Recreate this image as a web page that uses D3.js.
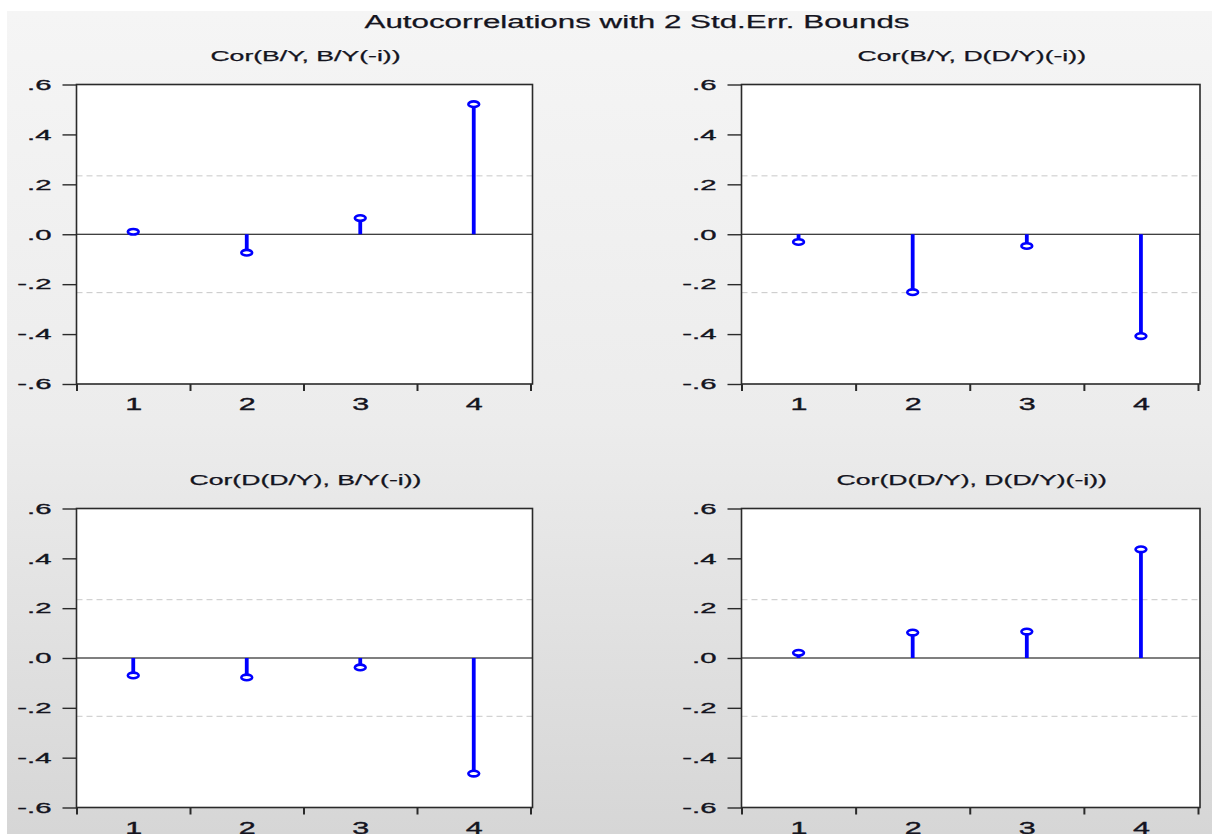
<!DOCTYPE html>
<html>
<head>
<meta charset="utf-8">
<script src="https://cdn.jsdelivr.net/npm/d3@7"></script>
<style>
  html, body { margin: 0; padding: 0; background: #ffffff; }
  svg { display: block; font-family: "Liberation Sans", Arial, sans-serif; }
</style>
</head>
<body>
<svg id="chart" width="1212" height="834"></svg>
<script>
// Lags on the horizontal axis
const lags = [1, 2, 3, 4];

// Cross-correlations for each pair of series
const corrBY_BY   = [0.010, -0.074, 0.065, 0.521];
const corrBY_DDY  = [-0.031, -0.232, -0.047, -0.408];
const corrDDY_BY  = [-0.070, -0.078, -0.038, -0.464];
const corrDDY_DDY = [0.021, 0.102, 0.106, 0.436];

const panelTitles = [
  "Cor(B/Y, B/Y(-i))",
  "Cor(B/Y, D(D/Y)(-i))",
  "Cor(D(D/Y), B/Y(-i))",
  "Cor(D(D/Y), D(D/Y)(-i))"
];
const panelValues = [corrBY_BY, corrBY_DDY, corrDDY_BY, corrDDY_DDY];

// Two standard-error band
const stdErrBound = 0.234;

const yTicks = [0.6, 0.4, 0.2, 0.0, -0.2, -0.4, -0.6];
const yTickLabels = [".6", ".4", ".2", ".0", "-.2", "-.4", "-.6"];
const xTickLabels = ["1", "2", "3", "4"];

const mainTitle = "Autocorrelations with 2 Std.Err. Bounds";

// ---- layout ----
const W = 1212, H = 834;
const cols = [{ x0: 76.5, x1: 530.5 }, { x0: 741.5, x1: 1198 }];
const rows = [{ y0: 84.5, y1: 384 }, { y0: 508.5, y1: 807.5 }];
const textColor = "#14141e";
const stemColor = "#0000ff";

const svg = d3.select("#chart");

// background panel
const defs = svg.append("defs");
const grad = defs.append("linearGradient")
  .attr("id", "bg").attr("x1", 0).attr("y1", 0).attr("x2", 0).attr("y2", 1);
grad.append("stop").attr("offset", "0").attr("stop-color", "#f5f5f5");
grad.append("stop").attr("offset", "0.5").attr("stop-color", "#ececec");
grad.append("stop").attr("offset", "1").attr("stop-color", "#d6d6d6");
svg.append("rect").attr("x", 7).attr("y", 11)
  .attr("width", W - 7).attr("height", H - 11)
  .attr("fill", "url(#bg)");

// text drawn wide, as in the original graph export
function widen(sel, factor) {
  sel.each(function () {
    const w = this.getComputedTextLength();
    this.setAttribute("textLength", w * factor);
    this.setAttribute("lengthAdjust", "spacingAndGlyphs");
  });
}

svg.append("text")
  .attr("x", 637).attr("y", 27.5)
  .attr("text-anchor", "middle")
  .attr("font-size", 17.5)
  .attr("fill", textColor)
  .attr("stroke", textColor).attr("stroke-width", 0.25)
  .text(mainTitle)
  .call(widen, 1.79);

panelValues.forEach((vals, i) => {
  const c = cols[i % 2], r = rows[Math.floor(i / 2)];
  const x = d3.scaleLinear().domain([0.5, 4.5]).range([c.x0, c.x1]);
  const y = d3.scaleLinear().domain([-0.6, 0.6]).range([r.y1, r.y0]);
  const g = svg.append("g");

  // plot area
  g.append("rect")
    .attr("x", c.x0).attr("y", r.y0)
    .attr("width", c.x1 - c.x0 + 2).attr("height", r.y1 - r.y0)
    .attr("fill", "#ffffff");

  // panel title
  g.append("text")
    .attr("x", (c.x0 + c.x1) / 2 + 2).attr("y", r.y0 - 24)
    .attr("text-anchor", "middle")
    .attr("font-size", 14)
    .attr("fill", textColor)
    .attr("stroke", textColor).attr("stroke-width", 0.25)
    .text(panelTitles[i])
    .call(widen, 1.9);

  // +/- 2 s.e. bounds
  g.selectAll("line.bound")
    .data([stdErrBound, -stdErrBound])
    .join("line")
    .attr("class", "bound")
    .attr("x1", c.x0).attr("x2", c.x1 + 2)
    .attr("y1", d => y(d)).attr("y2", d => y(d))
    .attr("stroke", "#c8c8c8").attr("stroke-width", 1)
    .attr("stroke-dasharray", "6,4");

  // zero line
  g.append("line")
    .attr("x1", c.x0).attr("x2", c.x1 + 2)
    .attr("y1", y(0)).attr("y2", y(0))
    .attr("stroke", "#000").attr("stroke-width", 1.2);

  // stems
  g.selectAll("line.stem")
    .data(vals)
    .join("line")
    .attr("class", "stem")
    .attr("x1", (d, k) => x(lags[k])).attr("x2", (d, k) => x(lags[k]))
    .attr("y1", y(0)).attr("y2", d => y(d))
    .attr("stroke", stemColor).attr("stroke-width", 3.8);

  // markers
  g.selectAll("ellipse.pt")
    .data(vals)
    .join("ellipse")
    .attr("class", "pt")
    .attr("cx", (d, k) => x(lags[k])).attr("cy", d => y(d))
    .attr("rx", 5.4).attr("ry", 2.8)
    .attr("fill", "#ffffff")
    .attr("stroke", stemColor).attr("stroke-width", 2.6);

  // frame
  g.append("rect")
    .attr("x", c.x0).attr("y", r.y0)
    .attr("width", c.x1 - c.x0 + 2).attr("height", r.y1 - r.y0)
    .attr("fill", "none")
    .attr("stroke", "#2a2a2a").attr("stroke-width", 1.6);

  // y axis
  const yAxis = d3.axisLeft(y)
    .tickValues(yTicks)
    .tickSize(14).tickPadding(11)
    .tickFormat((d, k) => yTickLabels[k]);
  const ya = g.append("g").attr("transform", `translate(${c.x0},0)`).call(yAxis);
  ya.select(".domain").remove();
  ya.selectAll("line").attr("stroke", "#2a2a2a").attr("stroke-width", 1.4);
  ya.selectAll("text")
    .attr("font-size", 15).attr("fill", textColor)
    .attr("stroke", textColor).attr("stroke-width", 0.35)
    .attr("font-family", null)
    .call(widen, 1.95);

  // x axis: ticks on lag boundaries, labels on lags
  const xTickAxis = d3.axisBottom(x)
    .tickValues([0.5, 1.5, 2.5, 3.5, 4.5])
    .tickSize(7).tickFormat("");
  const xa = g.append("g").attr("transform", `translate(0,${r.y1})`).call(xTickAxis);
  xa.select(".domain").remove();
  xa.selectAll("line").attr("stroke", "#2a2a2a").attr("stroke-width", 2);

  const xLabelAxis = d3.axisBottom(x)
    .tickValues(lags)
    .tickSize(0).tickPadding(15)
    .tickFormat((d, k) => xTickLabels[k]);
  const xl = g.append("g").attr("transform", `translate(0,${r.y1})`).call(xLabelAxis);
  xl.select(".domain").remove();
  xl.selectAll("text")
    .attr("font-size", 16).attr("fill", textColor)
    .attr("stroke", textColor).attr("stroke-width", 0.35)
    .attr("font-family", null)
    .call(widen, 1.9);
});
</script>
</body>
</html>
